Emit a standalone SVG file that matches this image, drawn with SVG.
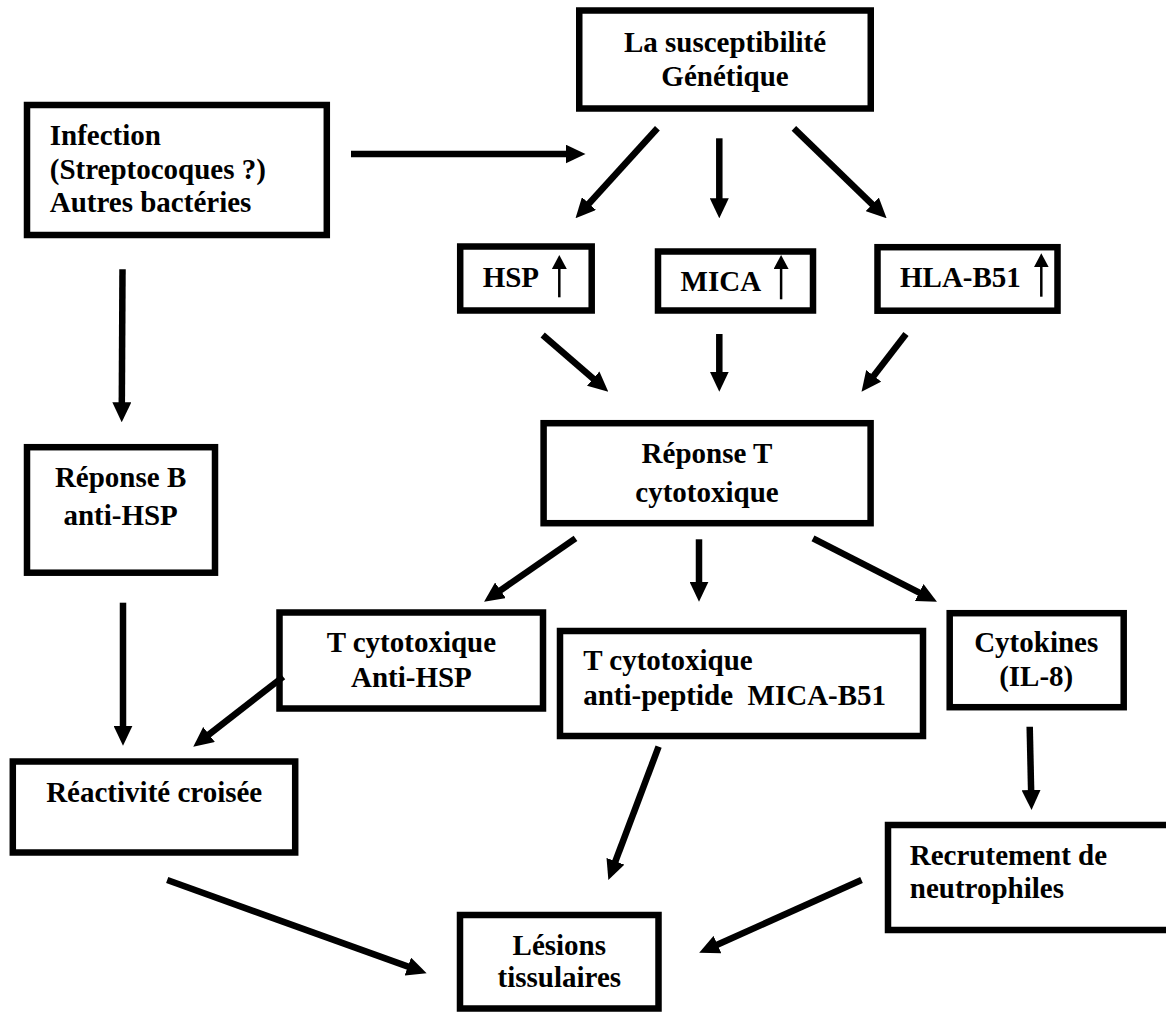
<svg xmlns="http://www.w3.org/2000/svg" width="1166" height="1016" viewBox="0 0 1166 1016">
<defs>
<style>
.box{fill:#fff;stroke:#000;stroke-width:6.5}
.t{font-family:"Liberation Serif","Times New Roman",serif;font-weight:bold;font-size:29px;fill:#000}
.c{text-anchor:middle}
.con{stroke:#000;stroke-width:6.5;fill:none;marker-end:url(#ah)}
.up{stroke:#000;stroke-width:2.5;fill:none;marker-end:url(#uh)}
</style>
<marker id="ah" markerUnits="userSpaceOnUse" markerWidth="20" markerHeight="19" viewBox="0 0 20 19" refX="4" refY="9.5" orient="auto">
<path d="M0,0 L20,9.5 L0,19 z" fill="#000"/>
</marker>
<marker id="uh" markerUnits="userSpaceOnUse" markerWidth="14" markerHeight="15" viewBox="0 0 14 15" refX="3" refY="7.5" orient="auto">
<path d="M0,0 L14,7.5 L0,15 z" fill="#000"/>
</marker>
</defs>
<rect width="1166" height="1016" fill="#fff"/>
<g id="n-susceptibilite">
<rect class="box" x="579.25" y="10.5" width="291.5" height="98"/>
<text class="t c" x="725" y="51.7">La susceptibilité</text>
<text class="t c" x="725" y="86">Génétique</text>
</g>
<g id="n-infection">
<rect class="box" x="27" y="105" width="299.8" height="130"/>
<text class="t" x="49.75" y="145">Infection</text>
<text class="t" x="49.75" y="179">(Streptocoques ?)</text>
<text class="t" x="49.75" y="212.3">Autres bactéries</text>
</g>
<g id="n-hsp">
<rect class="box" x="460.2" y="246.5" width="131.5" height="64"/>
<text class="t" x="482.7" y="286.7">HSP</text>
<line class="up" x1="559.3" y1="297.3" x2="559.3" y2="266"/>
</g>
<g id="n-mica">
<rect class="box" x="658" y="251.5" width="155" height="59"/>
<text class="t" x="680.6" y="290.7">MICA</text>
<line class="up" x1="781.1" y1="299.3" x2="781.1" y2="266"/>
</g>
<g id="n-hla">
<rect class="box" x="877.5" y="247.2" width="180" height="63.5"/>
<text class="t" x="900" y="286.7">HLA-B51</text>
<line class="up" x1="1041.3" y1="296.7" x2="1041.3" y2="264.3"/>
</g>
<g id="n-reponse-t">
<rect class="box" x="543.6" y="423.2" width="327" height="100"/>
<text class="t c" x="707" y="463.3">Réponse T</text>
<text class="t c" x="707" y="501.7">cytotoxique</text>
</g>
<g id="n-reponse-b">
<rect class="box" x="27" y="447.2" width="188" height="125.5"/>
<text class="t c" x="120.6" y="486.7">Réponse B</text>
<text class="t c" x="120.6" y="525">anti-HSP</text>
</g>
<g id="n-tcyto-hsp">
<rect class="box" x="279.5" y="612.5" width="263.5" height="96"/>
<text class="t c" x="411.4" y="651.7">T cytotoxique</text>
<text class="t c" x="411.4" y="686.7">Anti-HSP</text>
</g>
<g id="n-tcyto-mica">
<rect class="box" x="560" y="631" width="363" height="105"/>
<text class="t" x="583.2" y="670">T cytotoxique</text>
<text class="t" x="583.2" y="705" xml:space="preserve">anti-peptide  MICA-B51</text>
</g>
<g id="n-cytokines">
<rect class="box" x="949.7" y="613.2" width="174" height="94"/>
<text class="t c" x="1036.2" y="651.7">Cytokines</text>
<text class="t c" x="1036.2" y="686">(IL-8)</text>
</g>
<g id="n-reactivite">
<rect class="box" x="12.8" y="761.5" width="282.4" height="91"/>
<text class="t c" x="154.2" y="801.7">Réactivité croisée</text>
</g>
<g id="n-recrutement">
<rect class="box" x="888" y="825" width="290" height="105"/>
<text class="t" x="909.8" y="865">Recrutement de</text>
<text class="t" x="909.8" y="898.3">neutrophiles</text>
</g>
<g id="n-lesions">
<rect class="box" x="460" y="915" width="198.5" height="93.5"/>
<text class="t c" x="559.3" y="955">Lésions</text>
<text class="t c" x="559.3" y="987">tissulaires</text>
</g>
<g id="connectors">
<line class="con" x1="351" y1="154" x2="569.5" y2="154"/>
<line class="con" x1="657.4" y1="128.3" x2="586.3" y2="206.5"/>
<line class="con" x1="719.3" y1="138.3" x2="719.3" y2="202.3"/>
<line class="con" x1="793.9" y1="128.3" x2="875.1" y2="207.2"/>
<line class="con" x1="122.5" y1="269.3" x2="121.8" y2="406.3"/>
<line class="con" x1="542.7" y1="335" x2="596.2" y2="381.2"/>
<line class="con" x1="719.3" y1="334" x2="719.3" y2="375.7"/>
<line class="con" x1="906" y1="334" x2="871.3" y2="379"/>
<line class="con" x1="575.5" y1="538.3" x2="497.2" y2="592.6"/>
<line class="con" x1="699" y1="539.3" x2="699" y2="585.7"/>
<line class="con" x1="813" y1="538.3" x2="922.7" y2="594.4"/>
<line class="con" x1="123" y1="602.7" x2="123" y2="729.7"/>
<line class="con" x1="283.2" y1="676.7" x2="205.9" y2="736.9"/>
<line class="con" x1="1029.7" y1="726.7" x2="1031.2" y2="794"/>
<line class="con" x1="658.6" y1="746.7" x2="614" y2="865"/>
<line class="con" x1="167.2" y1="880" x2="411.6" y2="967.9"/>
<line class="con" x1="861.5" y1="880" x2="713.8" y2="946.2"/>
</g>
</svg>
